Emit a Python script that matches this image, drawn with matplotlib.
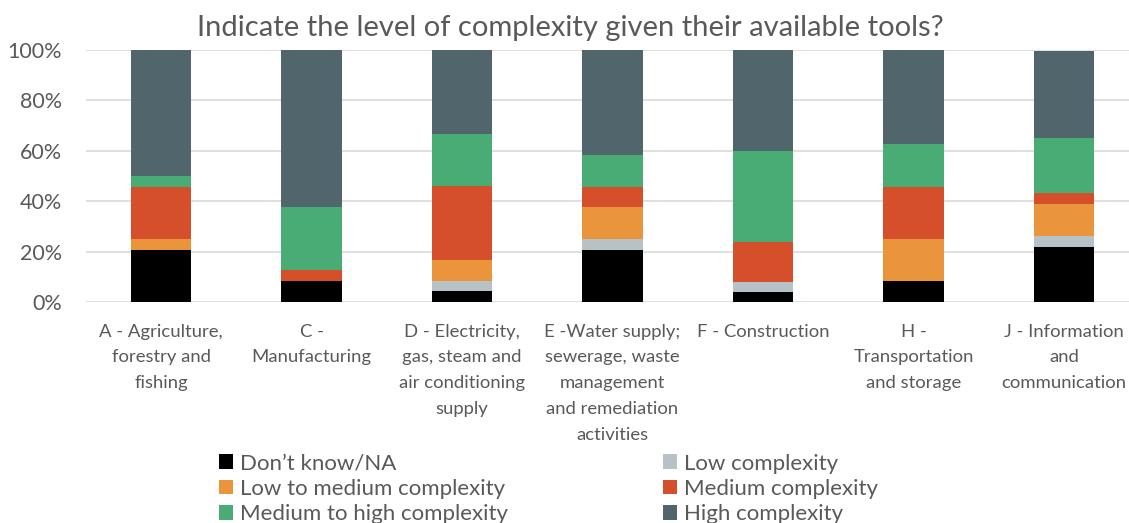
import matplotlib
matplotlib.use('Agg')
import matplotlib.pyplot as plt
import numpy as np
from matplotlib.patches import Patch

plt.rcParams['font.family'] = ['Lato', 'DejaVu Sans']

categories = ['A - Agriculture,\nforestry and\nfishing',
              'C -\nManufacturing',
              'D - Electricity,\ngas, steam and\nair conditioning\nsupply',
              'E -Water supply;\nsewerage, waste\nmanagement\nand remediation\nactivities',
              'F - Construction',
              'H -\nTransportation\nand storage',
              'J - Information\nand\ncommunication']

series_names = ['Don\u2019t know/NA', 'Low complexity', 'Low to medium complexity',
                'Medium complexity', 'Medium to high complexity', 'High complexity']

# shares in percent
dont_know = [20.8, 8.3, 4.2, 20.8, 4.0, 8.3, 21.7]
low = [0.0, 0.0, 4.2, 4.2, 4.0, 0.0, 4.3]
low_medium = [4.2, 0.0, 8.3, 12.5, 0.0, 16.7, 13.0]
medium = [20.8, 4.2, 29.2, 8.3, 16.0, 20.8, 4.3]
medium_high = [4.2, 25.0, 20.8, 12.5, 36.0, 16.7, 21.7]
high = [50.0, 62.5, 33.3, 41.7, 40.0, 37.5, 34.8]

colors = ['#000000', '#B7C2C6', '#EA943B', '#D44F2A', '#49AC74', '#51666C']
txt = '#595959'

fig = plt.figure(figsize=(11.29, 5.23), dpi=100)
ax = fig.add_axes([0.076, 0.4226, 0.9331, 0.4818])

x = np.arange(len(categories))
bottom = np.zeros(len(categories))
handles = []
for name, vals, c in zip(series_names, [dont_know, low, low_medium, medium, medium_high, high], colors):
    vals = np.array(vals)
    ax.bar(x, vals, 0.4, bottom=bottom, color=c, zorder=3)
    bottom = bottom + vals
    handles.append(Patch(facecolor=c, label=name))

ax.set_xlim(-0.5, len(categories) - 0.5)
ax.set_ylim(0, 100)
ax.set_yticks(np.arange(0, 101, 20))
ax.set_yticklabels(['%d%%' % v for v in range(0, 101, 20)], fontsize=15.5, color=txt)
ax.set_xticks(x)
ax.set_xticklabels(categories, fontsize=13.3, color=txt, linespacing=1.76, va='top')
ax.tick_params(axis='both', length=0)
ax.tick_params(axis='y', pad=17)
ax.tick_params(axis='x', pad=15.5)
ax.grid(axis='y', color='#D9D9D9', linewidth=1.2, zorder=0)
for s in ax.spines.values():
    s.set_visible(False)

fig.text(0.505, 0.946, 'Indicate the level of complexity given their available tools?',
         ha='center', va='center', fontsize=21, color=txt)

# reorder so the legend reads row by row
order = [0, 2, 4, 1, 3, 5]
fig.legend([handles[i] for i in order], [series_names[i] for i in order],
           ncol=2, loc='lower left', bbox_to_anchor=(0.176, -0.04), frameon=False,
           fontsize=16, handlelength=0.65, handleheight=0.65, handletextpad=0.3,
           columnspacing=6.97, labelspacing=0.23, labelcolor=txt)

fig.savefig('out.png', dpi=100)
